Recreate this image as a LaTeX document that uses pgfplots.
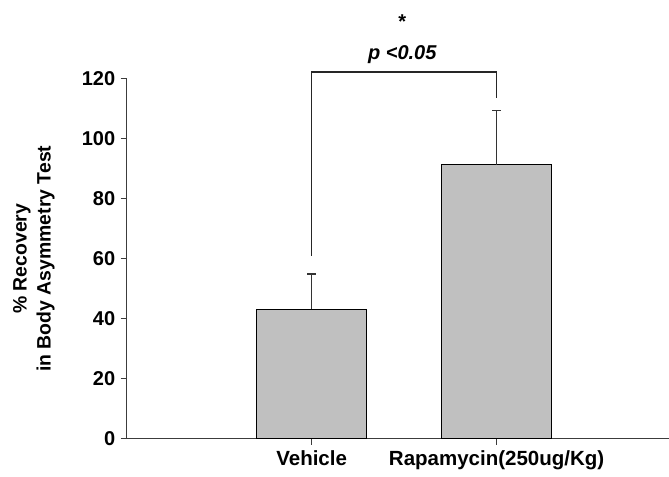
\documentclass[border=0pt]{standalone}
\usepackage{fontspec}
\setmainfont{Liberation Sans}
\usepackage{pgfplots}
\pgfplotsset{compat=1.18}
\definecolor{bargray}{RGB}{192,192,192}
\definecolor{axgray}{RGB}{60,60,60}
\begin{document}
\begin{tikzpicture}
\useasboundingbox (0,0) rectangle (669bp,477bp);
\begin{axis}[
  at={(126.7bp,38.3bp)}, anchor=south west,
  scale only axis, width=542.3bp, height=360bp,
  xmin=0, xmax=2.932, ymin=0, ymax=120,
  axis x line=bottom, axis y line=left,
  axis line style={-, axgray, line width=1.1bp},
  xtick={1,2}, xticklabels={Vehicle, Rapamycin(250ug/Kg)},
  ytick={0,20,...,120},
  tick align=outside, major tick length=6bp,
  tick style={axgray, line width=1bp},
  /pgf/number format/assume math mode=true,
  ticklabel style={font=\fontsize{20bp}{24bp}\selectfont\bfseries},
  xticklabel style={font=\fontsize{20.5bp}{24bp}\selectfont\bfseries, yshift=-2bp},
  yticklabel style={xshift=-2bp},
  ylabel={\% Recovery\\in Body Asymmetry Test},
  ylabel style={at={(axis description cs:0,0.5)}, anchor=center, rotate=0, yshift=92.7bp, align=center, font=\fontsize{19.4bp}{24bp}\selectfont\bfseries},
  clip=false,
]
\addplot[ybar, bar width=110bp, fill=bargray, draw=black, line width=0.9bp,
  error bars/.cd, y dir=plus, y explicit,
  error bar style={line width=1.2bp, black!80},
  error mark options={rotate=90, mark size=4.5bp, line width=1.2bp, black!80}]
  coordinates {(1,43.2) +- (0,11.7) (2,91.3) +- (0,18.1)};
\addplot[black!85, line width=1.4bp, mark=none] coordinates {(1,61) (1,122.2) (2,122.2) (2,113.5)};
\node[font=\fontsize{20bp}{24bp}\selectfont\bfseries\itshape] at (axis cs:1.49,127.9) {p <0.05};
\node[font=\fontsize{20bp}{24bp}\selectfont\bfseries] at (axis cs:1.49,139.0) {*};
\end{axis}
\end{tikzpicture}
\end{document}
